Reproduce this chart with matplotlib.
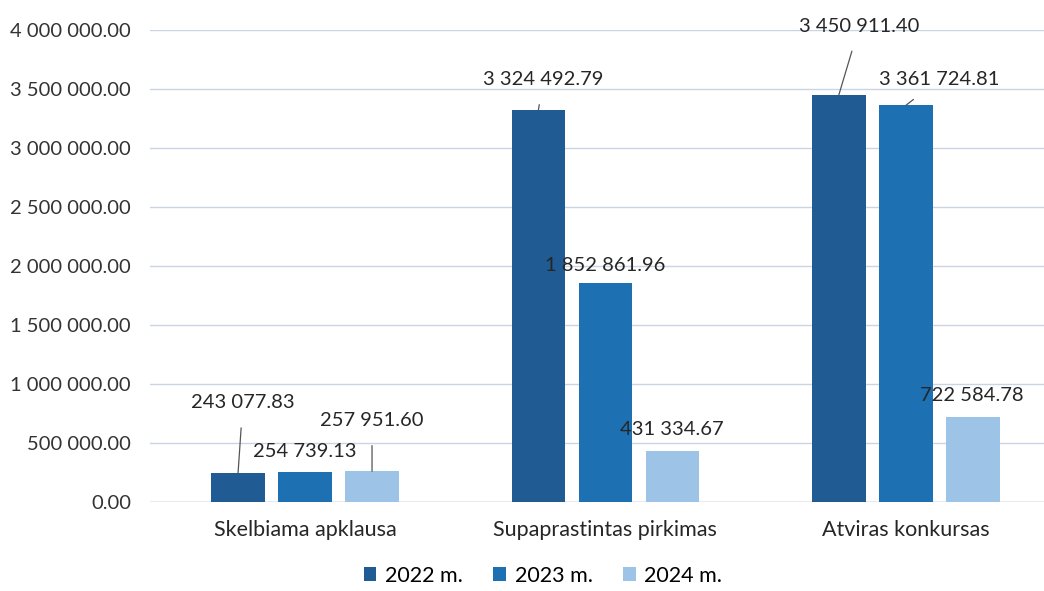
import matplotlib.pyplot as plt
import numpy as np

plt.rcParams['font.family'] = ['Lato', 'DejaVu Sans']

categories = ["Skelbiama apklausa", "Supaprastintas pirkimas", "Atviras konkursas"]
years = ["2022 m.", "2023 m.", "2024 m."]
values = {
    "2022 m.": [243077.83, 3324492.79, 3450911.40],
    "2023 m.": [254739.13, 1852861.96, 3361724.81],
    "2024 m.": [257951.60, 431334.67, 722584.78],
}
colors = ["#215b93", "#1d71b3", "#9dc3e6"]
yticks = [0, 500000, 1000000, 1500000, 2000000, 2500000, 3000000, 3500000, 4000000]


def fmt(v):
    s = f"{v:,.2f}"
    return s.replace(",", " ")


fig = plt.figure(figsize=(10.44, 5.91), dpi=100)
ax = fig.add_axes([0.144, 0.151, 0.856, 0.798])

x = np.arange(len(categories))
step = 0.223
width = 0.178
for i, (yr, c) in enumerate(zip(years, colors)):
    ax.bar(x + (i - 1) * step, values[yr], width, color=c, label=yr, zorder=3)

# text offsets per label, in data units: (dx, y, leader line)
offsets = {
    (0, 0): (-0.207, 840000, True),
    (0, 1): (0.0, 430000, False),
    (0, 2): (0.223, 690000, True),
    (1, 0): (-0.207, 3580000, True),
    (1, 1): (0.0, 2000000, False),
    (1, 2): (0.22, 610000, False),
    (2, 0): (-0.155, 4030000, True),
    (2, 1): (0.11, 3580000, True),
    (2, 2): (0.22, 900000, False),
}
for ci in range(len(categories)):
    for si, yr in enumerate(years):
        v = values[yr][ci]
        bx = ci + (si - 1) * step
        dx, ty, line = offsets[(ci, si)]
        tx = ci + dx
        if line:
            ax.annotate(fmt(v), xy=(bx, v), xytext=(tx, ty), ha="center", va="center",
                        fontsize=14.5, color="#262626", zorder=5,
                        arrowprops=dict(arrowstyle="-", color="#555555", lw=0.9,
                                        shrinkA=10, shrinkB=0))
        else:
            ax.text(tx, ty, fmt(v), ha="center", va="center", fontsize=14.5,
                    color="#262626", zorder=5)

ax.set_xlim(-0.515, 2.46)
ax.set_ylim(0, 4000000)
ax.set_yticks(yticks)
ax.set_yticklabels([fmt(t) for t in yticks], fontsize=14.5, color="#333333")
ax.set_xticks(x)
ax.set_xticklabels(categories, fontsize=15.5, color="#262626")
ax.tick_params(length=0, pad=14)
ax.tick_params(axis="x", pad=13)
ax.grid(axis="y", color="#c9d5e2", lw=1, zorder=0)
for s in ax.spines.values():
    s.set_visible(False)
ax.axhline(0, color="#b8b8b8", lw=1, zorder=2)

fig.legend(loc="center", bbox_to_anchor=(0.52, 0.026), ncol=3, frameon=False,
           fontsize=15.5, handlelength=0.6, handleheight=0.6, columnspacing=1.4,
           handletextpad=0.4)

fig.savefig("out.png", dpi=100)
